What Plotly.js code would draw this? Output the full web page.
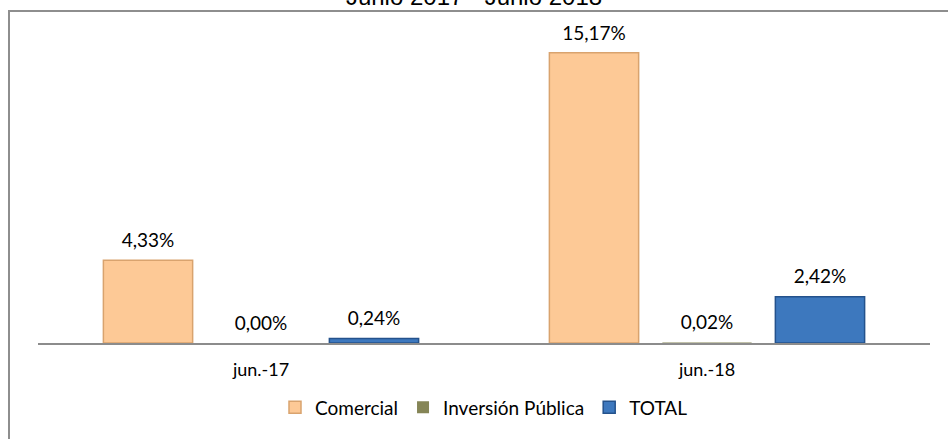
<!DOCTYPE html>
<html><head><meta charset="utf-8">
<script src="https://cdn.plot.ly/plotly-3.0.1.min.js"></script>
<style>
html,body{margin:0;padding:0;background:#fff;}
#wrap{position:relative;width:948px;height:439px;overflow:hidden;}
#frame{position:absolute;left:8px;top:10px;width:960px;height:460px;border-top:2px solid #8e8e8e;border-left:2px solid #8e8e8e;}
#chart{position:absolute;left:0;top:0;width:948px;height:439px;}
</style></head>
<body><div id="wrap"><div id="frame"></div><div id="chart"></div></div>
<script>
const categories = ['jun.-17', 'jun.-18'];
const seriesNames = ['Comercial', 'Inversión Pública', 'TOTAL'];
const comercial = [4.33, 15.17];
const inversion = [0.00, 0.02];
const total = [0.24, 2.42];
const titleText = 'Junio 2017 - Junio 2018';

const values = [comercial, inversion, total];
const fills = ['#FDC996', '#858556', '#3D78BE'];
const edges = ['#D9A36E', '#858556', '#24528C'];
const edgeW = [1.5, 0, 1.5];
const fontFam = 'Lato, "Open Sans", sans-serif';

const traces = [];
values.forEach((v, i) => {
  traces.push({
    type: 'bar', x: categories, y: v, name: seriesNames[i],
    offsetgroup: String(i),
    marker: {color: fills[i], line: {color: edges[i], width: edgeW[i]}},
    hoverinfo: 'skip'
  });
});
values.forEach((v, i) => {
  traces.push({
    type: 'scatter', mode: 'markers+text', x: categories, y: v,
    offsetgroup: String(i), showlegend: false,
    marker: {size: 12, opacity: 0},
    text: v.map(d => d.toFixed(2).replace('.', ',') + '%'),
    textposition: 'top center',
    textfont: {family: fontFam, size: 19, color: '#000'},
    hoverinfo: 'skip', cliponaxis: false
  });
});

const layout = {
  width: 948, height: 439,
  paper_bgcolor: 'rgba(0,0,0,0)', plot_bgcolor: 'rgba(0,0,0,0)',
  margin: {l: 38, r: 18, t: 30, b: 94},
  separators: ',.',
  barmode: 'group', bargap: 0.24, bargroupgap: 0.21,
  scattermode: 'group', scattergap: 0.24,
  title: {text: titleText, x: 0.5, xanchor: 'center', xref: 'container',
          y: 0.989, yref: 'container', yanchor: 'bottom',
          font: {family: '"Liberation Sans", Arial, sans-serif', size: 24, color: '#000'}},
  xaxis: {type: 'category', showline: true, linecolor: '#8c8c8c', linewidth: 1.5,
          ticks: '', showgrid: false, zeroline: false, ticklabelstandoff: 10,
          tickfont: {family: fontFam, size: 18, color: '#000'}},
  yaxis: {range: [0, 16.36], visible: false, showgrid: false, zeroline: false},
  showlegend: true,
  legend: {orientation: 'h', x: 0.5, xanchor: 'center', y: -0.206, yanchor: 'middle',
           font: {family: fontFam, size: 19, color: '#000'}, itemwidth: 30, traceorder: 'normal'},
  hovermode: false
};
Plotly.newPlot('chart', traces, layout, {displayModeBar: false, staticPlot: true});
</script></body></html>
